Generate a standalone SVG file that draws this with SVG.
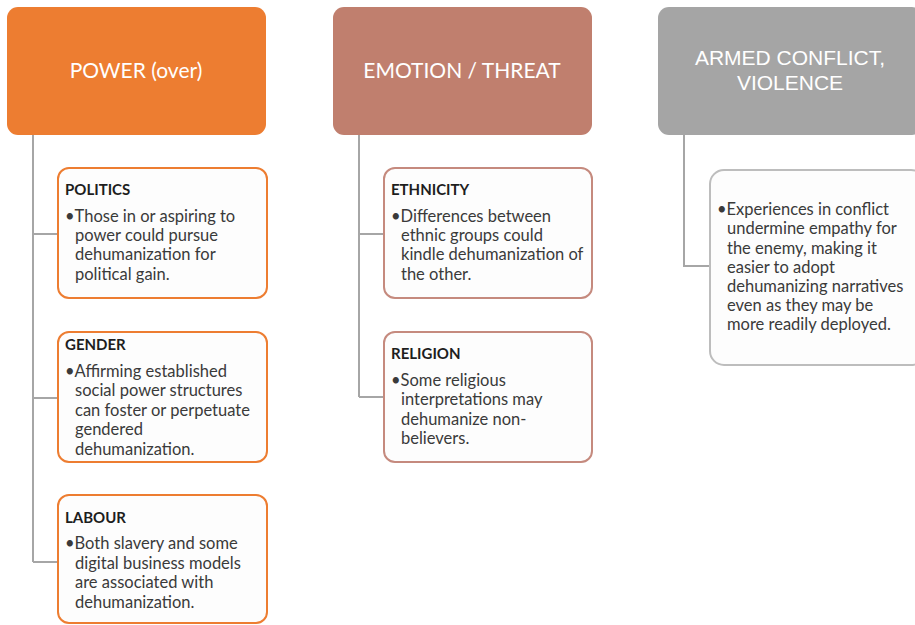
<svg xmlns="http://www.w3.org/2000/svg" width="915" height="625" viewBox="0 0 915 625">
<style>
.hd{font-family:Lato,"Open Sans",sans-serif;font-size:21px;fill:#ffffff;text-anchor:middle}
.hda{font-family:"Liberation Sans",Arial,sans-serif;font-size:21px;fill:#ffffff;text-anchor:middle}
.t{font-family:Lato,"Open Sans",sans-serif;font-size:16.5px;fill:#3a3a3a}
.b{font-weight:bold;font-size:15px;fill:#1e1e1e}
.c{fill:#fdfdfd;stroke-width:2}
.co{stroke:#ED7D31}
.ce{stroke:#C58A7E}
.cg{stroke:#BDBDBD}
.ln{fill:none;stroke:#A6A6A6;stroke-width:2}
</style>
<rect width="915" height="625" fill="#ffffff"/>
<g id="connectors">
<path class="ln" d="M33 135V562M33 234H58M33 398H58M33 562H58"/>
<path class="ln" d="M359 135V397M359 234H384M359 397H384"/>
<path class="ln" d="M684 135V266H710"/>
</g>
<g id="power">
<rect x="7" y="7" width="259" height="128" rx="11" fill="#ED7D31"/>
<text class="hd" x="136" y="78">POWER (over)</text>
</g>
<g id="emotion">
<rect x="333" y="7" width="259" height="128" rx="11" fill="#C07F6E"/>
<text class="hd" x="462" y="78">EMOTION / THREAT</text>
</g>
<g id="armed">
<rect x="658" y="7" width="265" height="128" rx="11" fill="#A5A5A5"/>
<text class="hda" x="790" y="65">ARMED CONFLICT,</text>
<text class="hda" x="790" y="90">VIOLENCE</text>
</g>
<g id="politics">
<rect class="c co" x="58" y="168" width="209" height="130" rx="11"/>
<text class="t b" x="65" y="195">POLITICS</text>
<text class="t" x="65" y="222">•Those in or aspiring to</text>
<text class="t" x="75" y="241">power could pursue</text>
<text class="t" x="75" y="260">dehumanization for</text>
<text class="t" x="75" y="280">political gain.</text>
</g>
<g id="gender">
<rect class="c co" x="58" y="332" width="209" height="130" rx="11"/>
<text class="t b" x="65" y="350">GENDER</text>
<text class="t" x="65" y="377">•Affirming established</text>
<text class="t" x="75" y="396">social power structures</text>
<text class="t" x="75" y="416">can foster or perpetuate</text>
<text class="t" x="75" y="435">gendered</text>
<text class="t" x="75" y="455">dehumanization.</text>
</g>
<g id="labour">
<rect class="c co" x="58" y="495" width="209" height="128" rx="11"/>
<text class="t b" x="65" y="523">LABOUR</text>
<text class="t" x="65" y="549">•Both slavery and some</text>
<text class="t" x="75" y="569">digital business models</text>
<text class="t" x="75" y="588">are associated with</text>
<text class="t" x="75" y="608">dehumanization.</text>
</g>
<g id="ethnicity">
<rect class="c ce" x="384" y="168" width="208" height="130" rx="11"/>
<text class="t b" x="391" y="195">ETHNICITY</text>
<text class="t" x="391" y="222">•Differences between</text>
<text class="t" x="401" y="241">ethnic groups could</text>
<text class="t" x="401" y="260">kindle dehumanization of</text>
<text class="t" x="401" y="280">the other.</text>
</g>
<g id="religion">
<rect class="c ce" x="384" y="332" width="208" height="130" rx="11"/>
<text class="t b" x="391" y="359">RELIGION</text>
<text class="t" x="391" y="386">•Some religious</text>
<text class="t" x="401" y="405">interpretations may</text>
<text class="t" x="401" y="425">dehumanize non-</text>
<text class="t" x="401" y="444">believers.</text>
</g>
<g id="conflict">
<rect class="c cg" x="710" y="170" width="215" height="195" rx="14"/>
<text class="t" x="717" y="215">•Experiences in conflict</text>
<text class="t" x="727" y="234">undermine empathy for</text>
<text class="t" x="727" y="254">the enemy, making it</text>
<text class="t" x="727" y="273">easier to adopt</text>
<text class="t" x="727" y="292">dehumanizing narratives</text>
<text class="t" x="727" y="311">even as they may be</text>
<text class="t" x="727" y="330">more readily deployed.</text>
</g>
</svg>
